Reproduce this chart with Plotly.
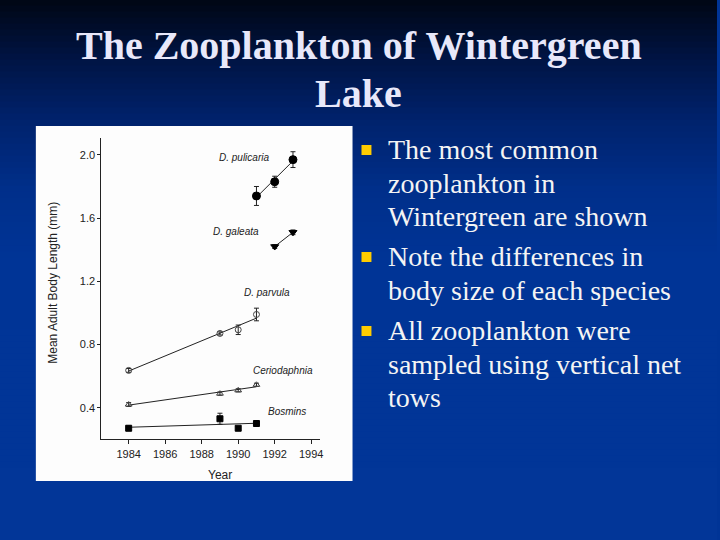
import numpy as np
import plotly.graph_objects as go

# ---------------- data ----------------
pulicaria_years = [1991, 1992, 1993]
pulicaria_len = [1.74, 1.83, 1.97]
pulicaria_err = [0.06, 0.035, 0.05]

galeata_years = [1992, 1993]
galeata_len = [1.42, 1.51]
galeata_err = [0.012, 0.015]

parvula_years = [1984, 1989, 1990, 1991]
parvula_len = [0.636, 0.87, 0.893, 0.99]
parvula_err = [0.012, 0.01, 0.03, 0.04]

cerio_years = [1984, 1989, 1990, 1991]
cerio_len = [0.42, 0.489, 0.51, 0.545]
cerio_err = [0.012, 0.01, 0.01, 0.01]

bosmina_years = [1984, 1989, 1990, 1991]
bosmina_len = [0.27, 0.33, 0.27, 0.30]
bosmina_err = [0.015, 0.035, 0.01, 0.015]

x_ticks = [1984, 1986, 1988, 1990, 1992, 1994]
y_ticks = [0.4, 0.8, 1.2, 1.6, 2.0]
y_tick_labels = ["0.4", "0.8", "1.2", "1.6", "2.0"]

title_lines = ["The Zooplankton of Wintergreen", "Lake"]
bullets = [
    ["The most common", "zooplankton in", "Wintergreen are shown"],
    ["Note the differences in", "body size of each species"],
    ["All zooplankton were", "sampled using vertical net", "tows"],
]

W, H = 720, 540
fig = go.Figure()

series = [
    ("D. pulicaria", pulicaria_years, pulicaria_len, pulicaria_err, "circle", "black", 8),
    ("D. galeata", galeata_years, galeata_len, galeata_err, "triangle-down", "black", 7),
    ("D. parvula", parvula_years, parvula_len, parvula_err, "circle-open", "#444", 6),
    ("Ceriodaphnia", cerio_years, cerio_len, cerio_err, "triangle-up-open", "#444", 6),
    ("Bosmina", bosmina_years, bosmina_len, bosmina_err, "square", "black", 6),
]

for name, xs, ys, es, sym, col, sz in series:
    # least-squares line through each species' points
    k, b = np.polyfit(xs, ys, 1)
    xe = [min(xs), max(xs)]
    fig.add_trace(go.Scatter(x=xe, y=[k * v + b for v in xe], mode="lines",
                             line=dict(color="#222", width=1), showlegend=False,
                             hoverinfo="skip"))
    fig.add_trace(go.Scatter(x=xs, y=ys, mode="markers", name=name,
                             marker=dict(symbol=sym, size=sz, color=col,
                                         line=dict(color=col, width=1)),
                             error_y=dict(type="data", array=es, color="#222",
                                          thickness=1, width=2.5),
                             showlegend=False))

# species labels
labels = [
    ("D. pulicaria", 1990.3, 1.985),
    ("D. galeata", 1989.9, 1.515),
    ("D. parvula", 1991.55, 1.13),
    ("Ceriodaphnia", 1992.45, 0.636),
    ("Bosmins", 1992.7, 0.377),
]
for txt, lx, ly in labels:
    fig.add_annotation(x=lx, y=ly, xref="x", yref="y", text="<i>%s</i>" % txt,
                       showarrow=False, xanchor="center", yanchor="middle",
                       font=dict(family="Liberation Sans", size=10, color="#222"))

# ------------- slide background (gradient) -------------
shapes = []
stops = [(0, (0, 6, 20)), (60, (0, 20, 68)), (120, (0, 34, 108)),
         (190, (0, 47, 138)), (260, (0, 52, 150)), (540, (2, 54, 152))]
n = 90
for i in range(n):
    y0 = i * H / n
    y1 = (i + 1) * H / n
    ym = (y0 + y1) / 2
    for (a, ca), (bb, cb) in zip(stops[:-1], stops[1:]):
        if a <= ym <= bb:
            t = (ym - a) / (bb - a)
            c = tuple(int(round(ca[j] + (cb[j] - ca[j]) * t)) for j in range(3))
            break
    shapes.append(dict(type="rect", xref="paper", yref="paper", x0=0, x1=1,
                       y0=1 - y1 / H - 0.001, y1=1 - y0 / H + 0.001, layer="below",
                       line=dict(width=0), fillcolor="rgb(%d,%d,%d)" % c))
# white panel of the figure image
shapes.append(dict(type="rect", xref="paper", yref="paper", x0=36 / W, x1=354 / W,
                   y0=1 - 481 / H, y1=1 - 126 / H, layer="below",
                   line=dict(width=0), fillcolor="#fdfdfd"))
# bullet squares
bullet_rows = [150, 257, 331]
for yc in bullet_rows:
    shapes.append(dict(type="rect", xref="paper", yref="paper",
                       x0=363 / W, x1=373 / W, y0=1 - (yc + 5) / H, y1=1 - (yc - 5) / H,
                       line=dict(width=0), fillcolor="#ffcc00"))

# title
title_y = [45, 93]
for t, yc in zip(title_lines, title_y):
    fig.add_annotation(x=0.5, y=1 - yc / H, xref="paper", yref="paper", text="<b>%s</b>" % t,
                       showarrow=False, xanchor="center", yanchor="middle",
                       font=dict(family="Liberation Serif", size=40, color="#e8e8fa"))

# bullet text
line_y = [[149, 183, 216], [256, 290], [330, 364, 397]]
for blk, ys in zip(bullets, line_y):
    for t, yc in zip(blk, ys):
        fig.add_annotation(x=388 / W, y=1 - yc / H, xref="paper", yref="paper", text=t,
                           showarrow=False, xanchor="left", yanchor="middle",
                           font=dict(family="Liberation Serif", size=28, color="#f4f4f4"))

# axis titles
fig.add_annotation(x=53 / W, y=1 - 283 / H, xref="paper", yref="paper",
                   text="Mean Adult Body Length (mm)", textangle=-90, showarrow=False,
                   xanchor="center", yanchor="middle",
                   font=dict(family="Liberation Sans", size=12, color="#222"))
fig.add_annotation(x=221 / W, y=1 - 475 / H, xref="paper", yref="paper",
                   text="Year", showarrow=False, xanchor="center", yanchor="middle",
                   font=dict(family="Liberation Sans", size=12, color="#222"))

fig.update_layout(
    width=W, height=H, margin=dict(l=0, r=0, t=0, b=0),
    paper_bgcolor="rgb(0,52,150)", plot_bgcolor="rgba(0,0,0,0)",
    shapes=shapes, showlegend=False,
    xaxis=dict(domain=[101.7 / W, 321.7 / W], range=[1982.5, 1994.5],
               tickvals=x_ticks, ticks="outside", ticklen=4, tickcolor="#222",
               showline=True, linecolor="#222", linewidth=1, showgrid=False,
               zeroline=False, tickfont=dict(family="Liberation Sans", size=11, color="#222")),
    yaxis=dict(domain=[1 - 439.3 / H, 1 - 138.3 / H], range=[0.2, 2.105],
               tickvals=y_ticks, ticktext=y_tick_labels, ticks="outside", ticklen=3,
               tickcolor="#222", showline=True, linecolor="#222", linewidth=1,
               showgrid=False, zeroline=False,
               tickfont=dict(family="Liberation Sans", size=11, color="#222")),
)

fig.write_html("out.html", config={"displayModeBar": False},
               post_script="document.body.style.margin='0';document.body.style.overflow='hidden';")
